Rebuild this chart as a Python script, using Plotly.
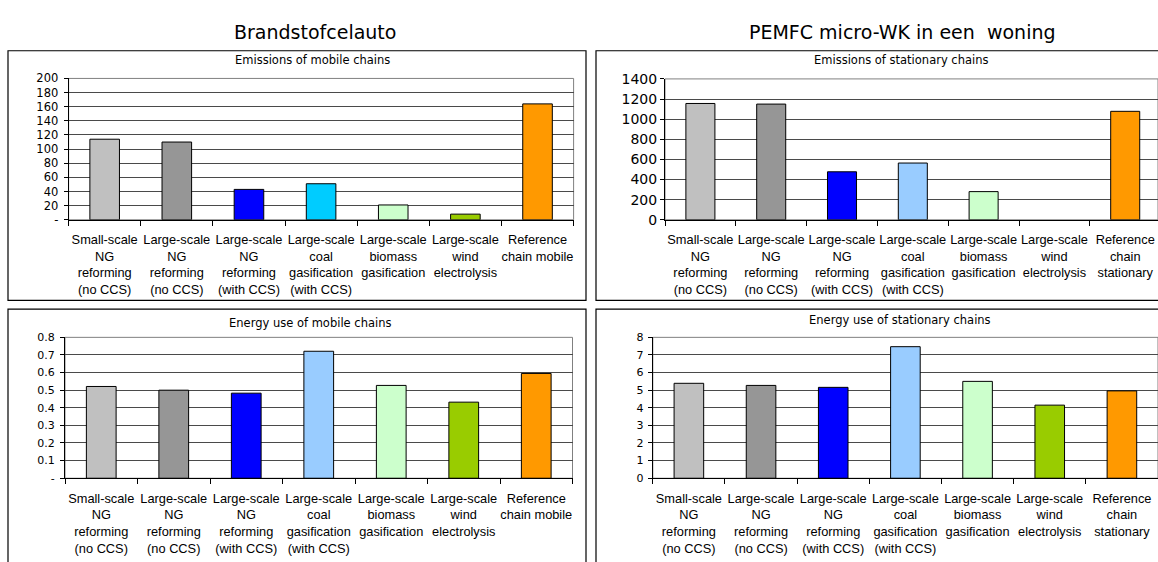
import plotly.graph_objects as go

# Hydrogen chain categories (shared by all four charts)
categories_mobile = [
    "Small-scale<br>NG<br>reforming<br>(no CCS)",
    "Large-scale<br>NG<br>reforming<br>(no CCS)",
    "Large-scale<br>NG<br>reforming<br>(with CCS)",
    "Large-scale<br>coal<br>gasification<br>(with CCS)",
    "Large-scale<br>biomass<br>gasification",
    "Large-scale<br>wind<br>electrolysis",
    "Reference<br>chain mobile",
]
categories_stationary = categories_mobile[:-1] + ["Reference<br>chain<br>stationary"]

# Series values
emissions_mobile = [114, 110, 43, 51, 21, 8, 164]
emissions_stationary = [1156, 1150, 477, 564, 280, 0, 1078]
energy_mobile = [0.521, 0.500, 0.483, 0.721, 0.527, 0.432, 0.595]
energy_stationary = [5.39, 5.27, 5.16, 7.47, 5.50, 4.15, 4.96]

# Y tick labels
ticks_em_mobile = [0, 20, 40, 60, 80, 100, 120, 140, 160, 180, 200]
ticktext_em_mobile = ["-"] + [str(v) for v in ticks_em_mobile[1:]]
ticks_em_stat = [0, 200, 400, 600, 800, 1000, 1200, 1400]
ticktext_em_stat = [str(v) for v in ticks_em_stat]
ticks_en_mobile = [0, 0.1, 0.2, 0.3, 0.4, 0.5, 0.6, 0.7, 0.8]
ticktext_en_mobile = ["-"] + [f"{v:.1f}" for v in ticks_en_mobile[1:]]
ticks_en_stat = [0, 1, 2, 3, 4, 5, 6, 7, 8]
ticktext_en_stat = [str(v) for v in ticks_en_stat]

# Bar colours
colors_top_left = ["#C0C0C0", "#969696", "#0000FF", "#00CCFF", "#CCFFCC", "#99CC00", "#FF9900"]
colors_other = ["#C0C0C0", "#969696", "#0000FF", "#99CCFF", "#CCFFCC", "#99CC00", "#FF9900"]

W, H = 1158, 562
FONT = "DejaVu Sans"
LABEL_FONT = "Liberation Sans"


def px(x):
    return x / W


def py(y):
    return 1 - y / H


fig = go.Figure()

panels = [
    # (axis suffix, categories, values, colors, yticks, yticktext, yrange, xdomain(px), ydomain(px), xrange, ytick font size)
    ("", categories_mobile, emissions_mobile, colors_top_left, ticks_em_mobile, ticktext_em_mobile,
     [0, 200], (68.6, 573.6), (72.5, 218), [-0.5, 6.5], 11.5, 3),
    ("2", categories_stationary, emissions_stationary, colors_other, ticks_em_stat, ticktext_em_stat,
     [0, 1400], (665, 1158), (73, 218), [-0.5, 6.463], 14, 0),
    ("3", categories_mobile, energy_mobile, colors_other, ticks_en_mobile, ticktext_en_mobile,
     [0, 0.8], (65, 572.5), (339, 484), [-0.5, 6.5], 11, 3),
    ("4", categories_stationary, energy_stationary, colors_other, ticks_en_stat, ticktext_en_stat,
     [0, 8], (652.8, 1158), (339, 484), [-0.5, 6.5], 11, 2),
]

for suffix, cats, vals, cols, yt, ytt, yr, xd, yd, xr, yfs, ystand in panels:
    # bars with no height get no outline either
    outline = [0 if v == 0 else 1 for v in vals]
    fig.add_trace(go.Bar(
        x=cats, y=vals, width=0.41,
        marker=dict(color=cols, line=dict(color="#000000", width=outline)),
        xaxis="x" + suffix, yaxis="y" + suffix, showlegend=False,
    ))
    fig.layout["xaxis" + suffix] = dict(
        domain=[px(xd[0]), px(xd[1])], anchor="y" + suffix, type="category",
        range=xr, tickson="boundaries", ticks="outside", ticklen=5, tickcolor="#000",
        showline=True, linecolor="#000", linewidth=1, showgrid=False,
        tickfont=dict(family=LABEL_FONT, size=12.8, color="#000"), tickangle=0,
        ticklabelstandoff=8, fixedrange=True,
    )
    fig.layout["yaxis" + suffix] = dict(
        domain=[py(yd[1]), py(yd[0])], anchor="x" + suffix, range=yr,
        tickvals=yt, ticktext=ytt, ticks="outside", ticklen=4, tickcolor="#000",
        showline=True, linecolor="#000", linewidth=1,
        showgrid=True, gridcolor="#4a4a4a", gridwidth=1, zeroline=False,
        tickfont=dict(family=FONT, size=yfs, color="#000"), ticklabelstandoff=ystand,
        fixedrange=True,
    )

shapes = []
# Plot-area borders (grey)
for suffix in ["", "2", "3", "4"]:
    shapes.append(dict(type="rect", xref=("x" + suffix + " domain"), yref=("y" + suffix + " domain"),
                       x0=0, x1=1, y0=0, y1=1, line=dict(color="#808080", width=1), layer="below"))
# Chart frames
frames = [(8, 586, 44, 301), (596, 1175, 44, 301), (8, 586, 310, 580), (596, 1175, 310, 580)]
for x0, x1, y0, y1 in frames:
    shapes.append(dict(type="rect", xref="paper", yref="paper",
                       x0=px(x0), x1=px(x1), y0=py(y1), y1=py(y0),
                       line=dict(color="#000000", width=1.2)))

annotations = []
for text, cx, cy, size in [
    ("Brandstofcelauto", 315, 25, 19),
    ("PEMFC micro-WK in een\u00a0 woning", 902, 25, 19),
    ("Emissions of mobile chains", 312, 54, 11.5),
    ("Emissions of stationary chains", 901, 54, 11.5),
    ("Energy use of mobile chains", 310, 324, 11.5),
    ("Energy use of stationary chains", 900, 321, 11.5),
]:
    annotations.append(dict(text=text, xref="paper", yref="paper", x=px(cx), y=py(cy),
                            xanchor="center", yanchor="middle", showarrow=False,
                            font=dict(family=FONT, size=size, color="#000")))

fig.update_layout(
    width=W, height=H, margin=dict(l=0, r=0, t=0, b=0),
    paper_bgcolor="#FFFFFF", plot_bgcolor="#FFFFFF",
    shapes=shapes, annotations=annotations, bargap=0.59,
)

fig.write_html("out.html", config={"displayModeBar": False})
